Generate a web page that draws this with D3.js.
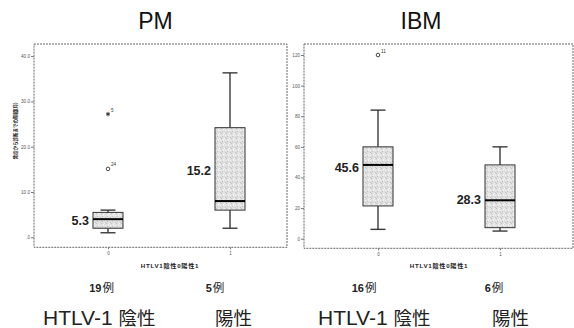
<!DOCTYPE html>
<html><head><meta charset="utf-8">
<script src="https://cdn.jsdelivr.net/npm/d3@7"></script>
<style>
html,body{margin:0;padding:0;background:#fff;}
svg{display:block;}
text{font-family:"Liberation Sans","Noto Sans CJK JP",sans-serif;}
</style></head>
<body>
<svg id="c" width="574" height="328"></svg>
<script>
// ---- data ----
const panelTitles = ["PM", "IBM"];
const groups = ["0", "1"];
// [lower whisker, Q1, median, Q3, upper whisker]
const pmStats = [[1.0, 2.0, 4.0, 5.5, 6.0], [2.0, 6.0, 8.0, 24.2, 36.3]];
const ibmStats = [[6.1, 21.4, 48.2, 60.0, 84.0], [5.0, 7.2, 25.1, 48.2, 60.0]];
const pmOutlierGroup = ["0", "0"];
const pmOutlierValues = [15.1, 27.2];
const pmOutlierIds = ["24", "5"];
const pmOutlierKinds = ["circle", "star"];
const ibmOutlierGroup = ["0"];
const ibmOutlierValues = [120];
const ibmOutlierIds = ["11"];
const ibmOutlierKinds = ["circle"];
const pmMeans = ["5.3", "15.2"];
const ibmMeans = ["45.6", "28.3"];
const pmCountNums = ["19", "5"];
const ibmCountNums = ["16", "6"];
const countUnit = "例";
const pmTicks = [0, 10, 20, 30, 40];
const pmTickLabels = [".0", "10.0", "20.0", "30.0", "40.0"];
const ibmTicks = [0, 20, 40, 60, 80, 100, 120];
const ibmTickLabels = ["0", "20", "40", "60", "80", "100", "120"];
const yTitle = "発症から診断までの期間(月)";
const xTitle = "HTLV1陰性0陽性1";
const negLatin = "HTLV-1 ";
const negCjk = "陰性";
const posLabel = "陽性";

// ---- layout ----
const svg = d3.select("#c");
const defs = svg.append("defs");
const pat = defs.append("pattern").attr("id", "stip").attr("patternUnits", "userSpaceOnUse")
  .attr("width", 5).attr("height", 5);
pat.append("rect").attr("width", 5).attr("height", 5).attr("fill", "#e0e0e0");
[[0,0],[2,1],[4,3],[1,3],[3,4],[0,2],[3,0]].forEach(([a,b],i) =>
  pat.append("rect").attr("x", a).attr("y", b).attr("width", 1).attr("height", 1)
     .attr("fill", i % 2 ? "#c2c2c2" : "#f3f3f3"));

const panels = [
  { title: panelTitles[0], titleX: 155.5, frame: [34, 44, 287, 247.3], xr: [108, 230],
    yDomain: [0, 40], yRange: [237.3, 56.1], stats: pmStats, og: pmOutlierGroup, ov: pmOutlierValues,
    oid: pmOutlierIds, ok: pmOutlierKinds, means: pmMeans, meanDy: [7.4, 1.6], counts: pmCountNums,
    countX: [101.5, 215], ticks: pmTicks, tickLabels: pmTickLabels, yTitle: true, xTitleX: 170,
    negX: 43, posX: 215 },
  { title: panelTitles[1], titleX: 421, frame: [304, 44, 573, 248.3], xr: [378, 500],
    yDomain: [0, 120], yRange: [238.7, 55], stats: ibmStats, og: ibmOutlierGroup, ov: ibmOutlierValues,
    oid: ibmOutlierIds, ok: ibmOutlierKinds, means: ibmMeans, meanDy: [-1.3, 4.6], counts: ibmCountNums,
    countX: [364, 494], ticks: ibmTicks, tickLabels: ibmTickLabels, yTitle: false, xTitleX: 439,
    negX: 318, posX: 492 }
];

panels.forEach(p => {
  const g = svg.append("g").attr("opacity", 0.995);
  const x = d3.scalePoint().domain(groups).range(p.xr);
  const y = d3.scaleLinear().domain(p.yDomain).range(p.yRange);
  const [fl, ft, fr, fb] = p.frame;

  // title
  g.append("text").attr("x", p.titleX).attr("y", 28.5).attr("text-anchor", "middle")
    .attr("font-size", 23).attr("fill", "#111").text(p.title);

  // frame
  g.append("rect").attr("x", fl).attr("y", ft).attr("width", fr - fl).attr("height", fb - ft)
    .attr("fill", "none").attr("stroke", "#666").attr("stroke-width", 1).attr("stroke-dasharray", "2,1");

  // y axis
  const ya = d3.axisLeft(y).tickValues(p.ticks).tickSize(3).tickPadding(1)
    .tickFormat((d, i) => p.tickLabels[i]);
  const yg = g.append("g").attr("transform", `translate(${fl},0)`).call(ya);
  yg.select(".domain").remove();
  yg.selectAll("line").attr("stroke", "#777");
  yg.selectAll("text").attr("font-size", 4.6).attr("fill", "#555").attr("font-family", "Liberation Sans");

  // x axis
  const xa = d3.axisBottom(x).tickSize(2).tickPadding(2);
  const xg = g.append("g").attr("transform", `translate(0,${fb})`).call(xa);
  xg.select(".domain").remove();
  xg.selectAll("line").attr("stroke", "#777");
  xg.selectAll("text").attr("font-size", 4.6).attr("fill", "#555").attr("font-family", "Liberation Sans");

  // axis titles
  g.append("text").attr("x", p.xTitleX).attr("y", 268).attr("text-anchor", "middle")
    .attr("font-size", 6.2).attr("font-weight", "bold").attr("letter-spacing", 0.7)
    .attr("fill", "#222").attr("font-family", "Noto Sans CJK JP").text(xTitle);
  if (p.yTitle) {
    g.append("text").attr("transform", "translate(17,131) rotate(-90)").attr("text-anchor", "middle")
      .attr("font-size", 4.5).attr("font-weight", "bold").attr("fill", "#222")
      .attr("font-family", "Noto Sans CJK JP").text(yTitle);
  }

  // boxes
  const bw = 15, cw = 7.5;
  p.stats.forEach((s, i) => {
    const cx = x(groups[i]);
    const [lo, q1, md, q3, hi] = s;
    const bx = g.append("g");
    bx.append("line").attr("x1", cx).attr("x2", cx).attr("y1", y(hi)).attr("y2", y(q3))
      .attr("stroke", "#3a3a3a").attr("stroke-width", 1.4);
    bx.append("line").attr("x1", cx).attr("x2", cx).attr("y1", y(q1)).attr("y2", y(lo))
      .attr("stroke", "#3a3a3a").attr("stroke-width", 1.4);
    [hi, lo].forEach(v => bx.append("line").attr("x1", cx - cw).attr("x2", cx + cw)
      .attr("y1", y(v)).attr("y2", y(v)).attr("stroke", "#3a3a3a").attr("stroke-width", 1.4));
    bx.append("rect").attr("x", cx - bw).attr("y", y(q3)).attr("width", 2 * bw)
      .attr("height", y(q1) - y(q3)).attr("fill", "url(#stip)").attr("stroke", "#333").attr("stroke-width", 1);
    bx.append("line").attr("x1", cx - bw).attr("x2", cx + bw).attr("y1", y(md)).attr("y2", y(md))
      .attr("stroke", "#000").attr("stroke-width", 2);

    // mean label
    g.append("text").attr("x", cx - 19).attr("y", y(+p.means[i]) + p.meanDy[i]).attr("dy", "0.36em")
      .attr("text-anchor", "end").attr("font-size", 12.5).attr("font-weight", "bold").attr("fill", "#222")
      .text(p.means[i]);

    // counts
    const ct = g.append("text").attr("x", p.countX[i]).attr("y", 291.5).attr("text-anchor", "middle")
      .attr("font-size", 11.5).attr("fill", "#222");
    ct.append("tspan").attr("font-weight", "bold").attr("font-size", 11).text(p.counts[i]);
    ct.append("tspan").attr("font-family", "Noto Sans CJK JP")
      .attr("dx", 1).text(countUnit);
  });

  // outliers
  p.ov.forEach((v, i) => {
    const cx = x(p.og[i]), cy = y(v);
    if (p.ok[i] === "circle") {
      g.append("circle").attr("cx", cx).attr("cy", cy).attr("r", 1.8)
        .attr("fill", "none").attr("stroke", "#333").attr("stroke-width", 0.9);
    } else {
      g.append("path").attr("transform", `translate(${cx},${cy})`)
        .attr("d", d3.symbol(d3.symbolAsterisk, 14)())
        .attr("fill", "none").attr("stroke", "#222").attr("stroke-width", 0.9);
    }
    g.append("text").attr("x", cx + 3).attr("y", cy - 2.5).attr("font-size", 4.6).attr("fill", "#333")
      .text(p.oid[i]);
  });

  // bottom labels
  const nt = g.append("text").attr("x", p.negX).attr("y", 324.5).attr("fill", "#222");
  nt.append("tspan").attr("font-size", 21).text(negLatin);
  nt.append("tspan").attr("font-size", 18.5).attr("font-family", "Noto Sans CJK JP").text(negCjk);
  g.append("text").attr("x", p.posX).attr("y", 324.5).attr("font-size", 18.5).attr("fill", "#222")
    .attr("font-family", "Noto Sans CJK JP").text(posLabel);
});
</script>
</body></html>
